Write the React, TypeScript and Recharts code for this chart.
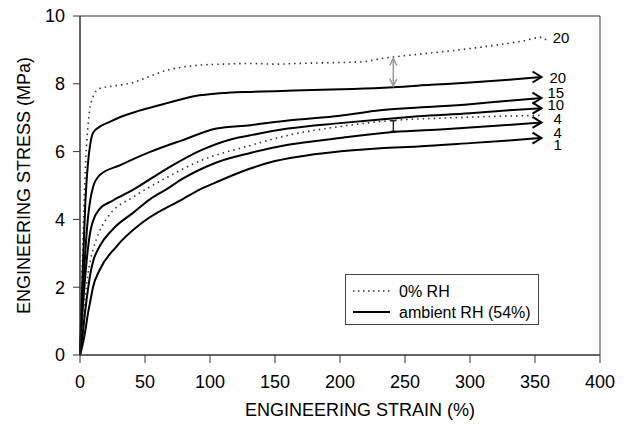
import React from "react";
import { LineChart, Line, XAxis, YAxis, ReferenceArea } from "recharts";

// strain (%) , stress (MPa)
const dry20 = [
  [0, 0], [1, 1.6], [2, 3.0], [4, 5.4], [6, 6.7], [8, 7.35], [10, 7.62], [15, 7.86], [25, 7.93], [41, 8.04],
  [55, 8.24], [67, 8.4], [80, 8.5], [92, 8.55], [110, 8.58], [131, 8.6], [150, 8.58], [167, 8.6], [190, 8.62],
  [218, 8.65], [231, 8.74], [241, 8.79], [260, 8.87], [280, 8.95], [300, 9.04], [320, 9.14], [340, 9.26], [355, 9.37], [359, 9.28],
];
const amb20 = [
  [0, 0], [1, 1.2], [2, 2.4], [4, 4.4], [6, 5.6], [8, 6.25], [10, 6.55], [15, 6.73], [22, 6.86], [31, 7.02],
  [45, 7.2], [67, 7.43], [92, 7.66], [115, 7.74], [131, 7.76], [150, 7.78], [179, 7.82], [210, 7.85], [241, 7.9],
  [270, 7.97], [300, 8.04], [330, 8.12], [355, 8.2],
];
const amb15 = [
  [0, 0], [1, 0.9], [2, 1.7], [4, 3.0], [6, 4.0], [8, 4.6], [10, 4.95], [15, 5.3], [31, 5.6], [54, 5.99],
  [79, 6.34], [105, 6.68], [131, 6.78], [160, 6.92], [200, 7.06], [231, 7.22], [260, 7.3], [300, 7.4], [330, 7.5], [355, 7.58],
];
const amb10 = [
  [0, 0], [1, 0.7], [2, 1.3], [4, 2.3], [6, 3.1], [8, 3.65], [10, 3.95], [15, 4.3], [25, 4.55], [41, 4.88],
  [67, 5.5], [92, 6.02], [118, 6.38], [131, 6.48], [160, 6.68], [200, 6.84], [231, 6.95], [260, 7.04], [300, 7.13], [330, 7.22], [355, 7.28],
];
const dry4 = [
  [0, 0], [1, 0.5], [2, 0.95], [4, 1.7], [6, 2.35], [8, 2.8], [10, 3.1], [15, 3.65], [23, 4.15], [41, 4.66],
  [67, 5.24], [92, 5.72], [131, 6.18], [160, 6.48], [200, 6.74], [241, 6.92], [280, 6.99], [320, 7.04], [355, 7.07],
];
const amb4 = [
  [0, 0], [1, 0.3], [2, 0.6], [4, 1.3], [6, 1.9], [8, 2.4], [10, 2.75], [15, 3.2], [25, 3.7], [41, 4.2],
  [54, 4.6], [67, 4.9], [79, 5.2], [105, 5.68], [131, 5.96], [160, 6.2], [200, 6.4], [241, 6.58], [280, 6.66], [320, 6.76], [355, 6.86],
];
const amb1 = [
  [0, 0], [2, 0.3], [4, 0.7], [6, 1.2], [8, 1.6], [10, 2.0], [15, 2.5], [28, 3.2], [46, 3.85], [54, 4.07],
  [79, 4.6], [92, 4.88], [105, 5.1], [131, 5.5], [150, 5.72], [180, 5.92], [210, 6.04], [231, 6.1], [260, 6.15],
  [300, 6.25], [330, 6.33], [355, 6.4],
];
const gapArrow20 = [[241, 7.94], [241, 8.75]];
const gapBar4 = [[241, 6.6], [241, 6.91]];

const xTicks = [0, 50, 100, 150, 200, 250, 300, 350, 400];
const yTicks = [0, 2, 4, 6, 8, 10];
const endLabels = { dry20: "20", amb20: "20", amb15: "15", amb10: "10", dry4: "4", amb4: "4", amb1: "1" };
const labelShift = { dry20: [6, -3], amb20: [8, 0], amb15: [6, -6], amb10: [6, -4], dry4: [12, 3], amb4: [12, 10], amb1: [12, 6] };

const toPts = (a: number[][]) => a.map(([x, y]) => ({ x, y }));
const FONT = "'Liberation Sans', Arial, sans-serif";

const makeDot = (n: number, arrow: boolean) => (p: any) => {
  const { cx, cy, index } = p;
  if (index !== n - 1 || !arrow) return <g key={index} />;
  return (
    <path key={index} d={`M${cx - 9},${cy - 5.5} L${cx},${cy} L${cx - 9},${cy + 5.5}`} fill="none" stroke="#000" strokeWidth={2} />
  );
};

const makeLabel = (n: number, key: string) => (p: any) => {
  const { x, y, index } = p;
  if (index !== n - 1) return <g key={index} />;
  const [dx, dy] = (labelShift as any)[key];
  return (
    <text key={index} x={x + dx} y={y + dy} dominantBaseline="central" fontSize={15} fontFamily={FONT} fill="#000">
      {(endLabels as any)[key]}
    </text>
  );
};

const series = [
  { key: "dry20", data: dry20, dotted: true },
  { key: "amb20", data: amb20, dotted: false },
  { key: "amb15", data: amb15, dotted: false },
  { key: "amb10", data: amb10, dotted: false },
  { key: "dry4", data: dry4, dotted: true },
  { key: "amb4", data: amb4, dotted: false },
  { key: "amb1", data: amb1, dotted: false },
];

const gapArrowDot = (p: any) => {
  const { cx, cy, index } = p;
  const d = index === 0 ? `M${cx - 3.5},${cy - 7} L${cx},${cy} L${cx + 3.5},${cy - 7}` : `M${cx - 3.5},${cy + 7} L${cx},${cy} L${cx + 3.5},${cy + 7}`;
  return <path key={index} d={d} fill="none" stroke="#999" strokeWidth={1.5} />;
};
const barCapDot = (p: any) => {
  const { cx, cy, index } = p;
  return <path key={index} d={`M${cx - 2.5},${cy} L${cx + 2.5},${cy}`} stroke="#000" strokeWidth={1.2} />;
};

export default function App() {
  return (
    <div style={{ position: "absolute", left: 0, top: 0, width: 626, height: 431, background: "#fff" }}>
      <LineChart width={626} height={431} margin={{ top: 16, right: 26, bottom: 0, left: 0 }}>
        <ReferenceArea x1={0} x2={400} y1={0} y2={10} fill="none" stroke="#333" strokeWidth={1} ifOverflow="visible" />
        <XAxis
          dataKey="x"
          type="number"
          domain={[0, 400]}
          ticks={xTicks}
          height={76}
          tickSize={8}
          tickMargin={12}
          stroke="#333"
          tick={{ fill: "#000", fontSize: 18, fontFamily: FONT }}
          allowDuplicatedCategory={false}
          label={{
            content: (props: any) => {
              const vb = props.viewBox;
              return (
                <text x={vb.x + vb.width / 2 + 20} y={vb.y + 55} textAnchor="middle" dominantBaseline="central" fontSize={18} fontFamily={FONT} fill="#000">
                  ENGINEERING STRAIN (%)
                </text>
              );
            },
          }}
        />
        <YAxis
          type="number"
          domain={[0, 10]}
          ticks={yTicks}
          width={80}
          tickSize={7}
          tickMargin={8}
          stroke="#333"
          tick={{ fill: "#000", fontSize: 18, fontFamily: FONT }}
          label={{
            content: (props: any) => {
              const vb = props.viewBox;
              const cy = vb.y + vb.height / 2;
              return (
                <text x={24} y={cy} transform={`rotate(-90, 24, ${cy})`} textAnchor="middle" dominantBaseline="central" fontSize={18} fontFamily={FONT} fill="#000">
                  ENGINEERING STRESS (MPa)
                </text>
              );
            },
          }}
        />
        {series.map((s) => (
          <Line
            key={s.key}
            data={toPts(s.data)}
            dataKey="y"
            type="monotone"
            stroke={s.dotted ? "#333" : "#000"}
            strokeWidth={s.dotted ? 1.6 : 2}
            strokeDasharray={s.dotted ? "1.5 4" : undefined}
            dot={makeDot(s.data.length, !s.dotted)}
            activeDot={false}
            label={makeLabel(s.data.length, s.key)}
            isAnimationActive={false}
          />
        ))}
        <Line data={toPts(gapArrow20)} dataKey="y" type="linear" stroke="#999" strokeWidth={1.5} dot={gapArrowDot} activeDot={false} isAnimationActive={false} />
        <Line data={toPts(gapBar4)} dataKey="y" type="linear" stroke="#000" strokeWidth={1.2} dot={barCapDot} activeDot={false} isAnimationActive={false} />
      </LineChart>
      <div
        style={{
          position: "absolute",
          left: 345,
          top: 274,
          width: 194,
          height: 51,
          border: "1px solid #444",
          background: "#fff",
          fontFamily: FONT,
          fontSize: 16,
          boxSizing: "border-box",
        }}
      >
        <svg width={194} height={51} style={{ position: "absolute", left: 0, top: 0 }}>
          <line x1={7} x2={44} y1={16} y2={16} stroke="#333" strokeWidth={1.5} strokeDasharray="1.5 3.5" />
          <line x1={7} x2={44} y1={37} y2={37} stroke="#000" strokeWidth={2} />
          <text x={53} y={16} dominantBaseline="central" fontSize={16} fontFamily={FONT}>0% RH</text>
          <text x={53} y={37} dominantBaseline="central" fontSize={16} fontFamily={FONT}>ambient RH (54%)</text>
        </svg>
      </div>
    </div>
  );
}
